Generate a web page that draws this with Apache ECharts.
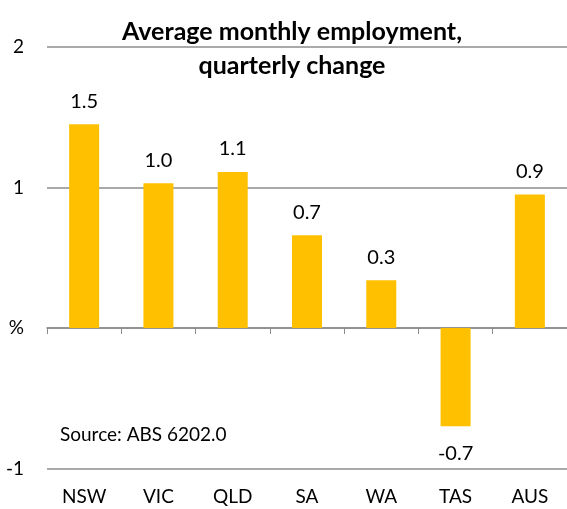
<!DOCTYPE html>
<html>
<head>
<meta charset="utf-8">
<script src="https://cdn.jsdelivr.net/npm/echarts@6/dist/echarts.min.js"></script>
<style>
html, body { margin: 0; padding: 0; background: #fff; }
#chart { width: 567px; height: 509px; }
</style>
</head>
<body>
<div id="chart"></div>
<script>
var states = ['NSW', 'VIC', 'QLD', 'SA', 'WA', 'TAS', 'AUS'];
var changes = [1.45, 1.03, 1.11, 0.66, 0.34, -0.70, 0.95];
var changeLabels = ['1.5', '1.0', '1.1', '0.7', '0.3', '-0.7', '0.9'];
var yTicks = [-1, 0, 1, 2];

var font = 'Lato';
var chart = echarts.init(document.getElementById('chart'));

var barData = [];
for (var i = 0; i < changes.length; i++) {
	var item = { value: changes[i] };
	if (changes[i] < 0) {
		item.label = { position: 'bottom', distance: 17 };
	}
	barData.push(item);
}

var option = {
	animation: false,
	title: {
		text: 'Average monthly employment,\nquarterly change',
		left: 287,
		textAlign: 'center',
		top: 10,
		textStyle: { fontFamily: font, fontWeight: 'bold', fontSize: 25, color: '#000', lineHeight: 34 }
	},
	graphic: [{
		type: 'text',
		left: 60,
		top: 425,
		style: { text: 'Source: ABS 6202.0', fontFamily: font, fontSize: 19, fill: '#000' }
	}],
	grid: { left: 47, right: -10, top: 47, bottom: 40.5 },
	xAxis: [{
		type: 'category',
		data: states,
		axisLine: { onZero: true, lineStyle: { color: '#8c8c8c', width: 1.5 } },
		axisTick: { show: true, length: 6, lineStyle: { color: '#8c8c8c' } },
		axisLabel: { show: false }
	}, {
		type: 'category',
		data: states,
		position: 'bottom',
		axisLine: { show: false },
		axisTick: { show: false },
		axisLabel: { fontFamily: font, fontSize: 19, color: '#000', margin: 19 }
	}],
	yAxis: {
		type: 'value',
		min: yTicks[0],
		max: yTicks[yTicks.length - 1],
		interval: 1,
		axisLine: { show: false },
		axisTick: { show: false },
		axisLabel: {
			fontFamily: font, fontSize: 19, color: '#000', margin: 23,
			formatter: function (v) { return v === 0 ? '%' : String(v); }
		},
		splitLine: { lineStyle: { color: '#8c8c8c', width: 1.5 } }
	},
	series: [{
		type: 'bar',
		xAxisIndex: 0,
		data: barData,
		barWidth: 30,
		itemStyle: { color: '#FFC000' },
		label: {
			show: true,
			position: 'top',
			distance: 13,
			fontFamily: font,
			fontSize: 20,
			color: '#000',
			formatter: function (p) { return changeLabels[p.dataIndex]; }
		}
	}]
};

chart.setOption(option);
</script>
</body>
</html>
